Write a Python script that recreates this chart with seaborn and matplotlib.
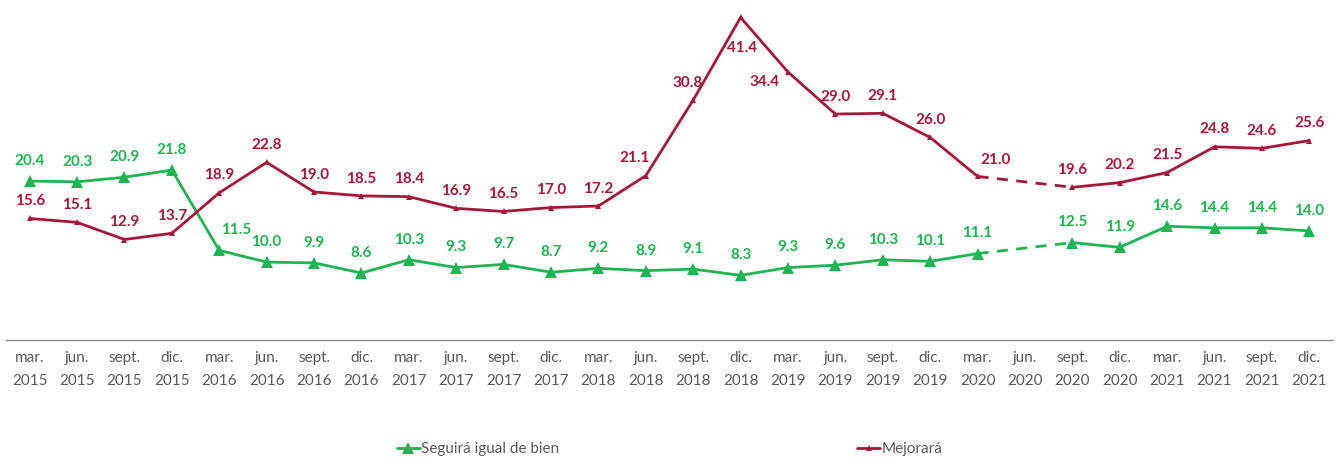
import numpy as np
import pandas as pd
import matplotlib
matplotlib.use("Agg")
import matplotlib.pyplot as plt
import seaborn as sns

categories = ["mar.\n2015", "jun.\n2015", "sept.\n2015", "dic.\n2015",
              "mar.\n2016", "jun.\n2016", "sept.\n2016", "dic.\n2016",
              "mar.\n2017", "jun.\n2017", "sept.\n2017", "dic.\n2017",
              "mar.\n2018", "jun.\n2018", "sept.\n2018", "dic.\n2018",
              "mar.\n2019", "jun.\n2019", "sept.\n2019", "dic.\n2019",
              "mar.\n2020", "jun.\n2020", "sept.\n2020", "dic.\n2020",
              "mar.\n2021", "jun.\n2021", "sept.\n2021", "dic.\n2021"]

seguira = [20.4, 20.3, 20.9, 21.8, 11.5, 10.0, 9.9, 8.6, 10.3, 9.3, 9.7, 8.7,
           9.2, 8.9, 9.1, 8.3, 9.3, 9.6, 10.3, 10.1, 11.1, np.nan, 12.5, 11.9,
           14.6, 14.4, 14.4, 14.0]
mejorara = [15.6, 15.1, 12.9, 13.7, 18.9, 22.8, 19.0, 18.5, 18.4, 16.9, 16.5, 17.0,
            17.2, 21.1, 30.8, 41.4, 34.4, 29.0, 29.1, 26.0, 21.0, np.nan, 19.6, 20.2,
            21.5, 24.8, 24.6, 25.6]

GREEN = "#1DB452"
RED = "#A8173A"
GRAY = "#595959"

sns.set_style("white")
plt.rcParams["font.family"] = ["Lato", "DejaVu Sans"]

fig = plt.figure(figsize=(13.41, 4.59), dpi=100)
ax = fig.add_axes([6 / 1341, 119 / 459, 1327 / 1341, 335 / 459])

x = np.arange(len(categories))
df = pd.DataFrame({"x": x, "seg": seguira, "mej": mejorara})
gap = int(np.where(np.isnan(df["seg"]))[0][0])
a = df.iloc[:gap]
b = df.iloc[gap + 1:]
bridge = df.iloc[[gap - 1, gap + 1]]

for col, color, ms, label in [("seg", GREEN, 8, "Seguirá igual de bien"),
                              ("mej", RED, 5, "Mejorará")]:
    sns.lineplot(data=a, x="x", y=col, ax=ax, color=color, lw=2, marker="^",
                 markersize=ms, markeredgewidth=0, label=label)
    sns.lineplot(data=b, x="x", y=col, ax=ax, color=color, lw=2, marker="^",
                 markersize=ms, markeredgewidth=0, legend=False)
    sns.lineplot(data=bridge, x="x", y=col, ax=ax, color=color, lw=2,
                 linestyle=(0, (4, 3)), legend=False)

# labels (offsets in points, text centered)
green_offsets = {4: (12, 14.5)}
red_offsets = {13: (-8, 12.5), 14: (-4, 12), 15: (1, -22),
               16: (-17, -7), 20: (13, 12)}
for i in x:
    v = seguira[i]
    if not np.isnan(v):
        dx, dy = green_offsets.get(i, (0, 14.5))
        ax.annotate(f"{v:.1f}", (i, v), xytext=(dx, dy), textcoords="offset points",
                    ha="center", va="center", color=GREEN, fontsize=11, fontweight="bold")
    v = mejorara[i]
    if not np.isnan(v):
        dx, dy = red_offsets.get(i, (0, 12.5))
        ax.annotate(f"{v:.1f}", (i, v), xytext=(dx, dy), textcoords="offset points",
                    ha="center", va="center", color=RED, fontsize=11, fontweight="bold")

ax.set_xlim(-0.5, len(categories) - 0.5)
ax.set_ylim(0, 43)
ax.set_yticks([])
ax.set_xlabel("")
ax.set_ylabel("")
ax.set_xticks(x)
ax.set_xticklabels(categories, color=GRAY, fontsize=11, linespacing=1.8)
ax.tick_params(axis="x", which="major", length=0, pad=8)
ax.set_xticks(np.arange(-0.5, len(categories), 1), minor=True)
ax.tick_params(axis="x", which="minor", length=6, color="#8C8C8C", width=1, direction="out")
for s in ["top", "right", "left"]:
    ax.spines[s].set_visible(False)
ax.spines["bottom"].set_color("#8C8C8C")
ax.spines["bottom"].set_linewidth(1)

ax.legend(loc="center", bbox_to_anchor=(0.5, -0.325), ncol=2, frameon=False,
          fontsize=11, handlelength=1.5, handletextpad=0.1, columnspacing=19.5,
          labelcolor=GRAY)

fig.savefig("out.png", dpi=100)
